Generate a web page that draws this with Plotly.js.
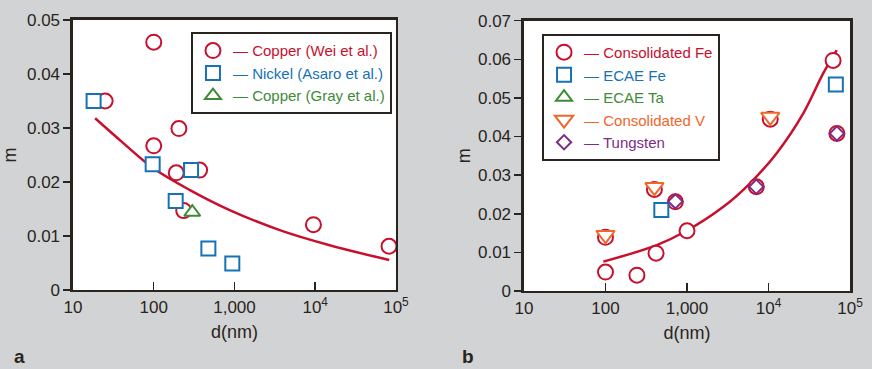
<!DOCTYPE html>
<html><head><meta charset="utf-8">
<script src="https://cdn.plot.ly/plotly-3.0.1.min.js"></script>
<style>html,body{margin:0;padding:0;background:#d1d3d4}</style>
</head><body><div id="chart" style="width:872px;height:369px"></div>
<script>
// ---- Panel a ----
const cuWeiD = [25, 100, 100, 205, 190, 370, 235, 9500, 82000];
const cuWeiM = [0.035, 0.0459, 0.0267, 0.0299, 0.0217, 0.0222, 0.0147, 0.0121, 0.0081];
const niAsaroD = [18, 97, 187, 290, 475, 940];
const niAsaroM = [0.035, 0.0233, 0.0165, 0.0222, 0.0077, 0.0049];
const cuGrayD = [300];
const cuGrayM = [0.0144];
const fitAD = [18.8, 42, 99, 281, 871, 3630, 15100, 82600];
const fitAM = [0.0318, 0.0272, 0.02254, 0.0185, 0.0148, 0.0111, 0.0083, 0.00556];

// ---- Panel b ----
const consFeD = [100, 243, 417, 1000, 7080, 62000, 100, 398, 720, 10500, 69000];
const consFeM = [0.0049, 0.0041, 0.0098, 0.0156, 0.027, 0.0597, 0.0139, 0.0263, 0.0231, 0.0445, 0.0408];
const ecaeFeD = [484, 67000];
const ecaeFeM = [0.021, 0.0535];
const ecaeTaD = [null];   // legend entry only, no visible point in the figure
const ecaeTaM = [null];
const consVD = [100, 398, 10500];
const consVM = [0.0145, 0.0269, 0.0451];
const tungD = [720, 7080, 69000];
const tungM = [0.0232, 0.027, 0.0408];
const fitBD = [94, 425, 990, 2790, 5930, 12600, 26700, 47000, 68700];
const fitBM = [0.0076, 0.0119, 0.0156, 0.0218, 0.0279, 0.0357, 0.046, 0.0564, 0.0624];

// ---- Tick labels ----
const xTickVals = [10, 100, 1000, 10000, 100000];
const xTickText = ['10', '100', '1,000', '10<sup>4</sup>', '10<sup>5</sup>'];
const yTickValsA = [0, 0.01, 0.02, 0.03, 0.04, 0.05];
const yTickTextA = ['0', '0.01', '0.02', '0.03', '0.04', '0.05'];
const yTickValsB = [0, 0.01, 0.02, 0.03, 0.04, 0.05, 0.06, 0.07];
const yTickTextB = ['0', '0.01', '0.02', '0.03', '0.04', '0.05', '0.06', '0.07'];

const RED = '#c8102e', BLUE = '#1672b5', GREEN = '#3d8b37', ORANGE = '#f2652b', PURPLE = '#7e2d87';
const INK = '#2a2420';
const FONT = 'Liberation Sans, Arial, sans-serif';
const lab = (c, t) => '<span style="color:' + c + '">— ' + t + '</span>';
const mk = (sym, c, size) => ({symbol: sym, size: size || 15, color: 'white', line: {color: c, width: 2}});

const traces = [
  {x: fitAD, y: fitAM, mode: 'lines', line: {color: RED, width: 2.5, shape: 'spline'}, showlegend: false, hoverinfo: 'skip', xaxis: 'x', yaxis: 'y'},
  {x: cuWeiD, y: cuWeiM, mode: 'markers', name: lab(RED, 'Copper (Wei et al.)'), marker: mk('circle', RED, 15), xaxis: 'x', yaxis: 'y', legend: 'legend'},
  {x: niAsaroD, y: niAsaroM, mode: 'markers', name: lab(BLUE, 'Nickel (Asaro et al.)'), marker: mk('square', BLUE, 14), xaxis: 'x', yaxis: 'y', legend: 'legend'},
  {x: cuGrayD, y: cuGrayM, mode: 'markers', name: lab(GREEN, 'Copper (Gray et al.)'), marker: mk('triangle-up', GREEN, 14), xaxis: 'x', yaxis: 'y', legend: 'legend'},

  {x: fitBD, y: fitBM, mode: 'lines', line: {color: RED, width: 2.5, shape: 'spline'}, showlegend: false, hoverinfo: 'skip', xaxis: 'x2', yaxis: 'y2'},
  {x: consFeD, y: consFeM, mode: 'markers', name: lab(RED, 'Consolidated Fe'), marker: mk('circle', RED, 15), xaxis: 'x2', yaxis: 'y2', legend: 'legend2'},
  {x: ecaeFeD, y: ecaeFeM, mode: 'markers', name: lab(BLUE, 'ECAE Fe'), marker: mk('square', BLUE, 14), xaxis: 'x2', yaxis: 'y2', legend: 'legend2'},
  {x: ecaeTaD, y: ecaeTaM, mode: 'markers', name: lab(GREEN, 'ECAE Ta'), marker: mk('triangle-up', GREEN, 14), xaxis: 'x2', yaxis: 'y2', legend: 'legend2', showlegend: true},
  {x: consVD, y: consVM, mode: 'markers', name: lab(ORANGE, 'Consolidated V'), marker: mk('triangle-down', ORANGE, 16), xaxis: 'x2', yaxis: 'y2', legend: 'legend2'},
  {x: tungD, y: tungM, mode: 'markers', name: lab(PURPLE, 'Tungsten'), marker: mk('diamond', PURPLE, 11), xaxis: 'x2', yaxis: 'y2', legend: 'legend2'}
];

const tickFont = {family: FONT, size: 17, color: INK};
const xAx = (dom, anchor) => ({
  type: 'log', range: [1, 5], domain: dom, anchor: anchor,
  tickvals: xTickVals, ticktext: xTickText, tickfont: tickFont,
  ticks: 'inside', ticklen: 8, tickwidth: 1.5, tickcolor: INK,
  showline: true, mirror: true, linecolor: INK, linewidth: 2.5,
  showgrid: false, zeroline: false,
  title: {text: 'd(nm)', font: {family: FONT, size: 18, color: INK}, standoff: 10}
});
const yAx = (dom, anchor, rng, tv, tt, so) => ({
  range: rng, domain: dom, anchor: anchor,
  tickvals: tv, ticktext: tt, tickfont: tickFont,
  ticks: 'outside', ticklen: 7, tickwidth: 1.5, tickcolor: INK,
  showline: true, mirror: true, linecolor: INK, linewidth: 2.5,
  showgrid: false, zeroline: false,
  title: {text: 'm', font: {family: FONT, size: 18, color: INK}, standoff: so}
});

const legFont = {family: FONT, size: 15, color: INK};
const layout = {
  width: 872, height: 369,
  margin: {l: 0, r: 0, t: 0, b: 0},
  paper_bgcolor: '#d1d3d4', plot_bgcolor: 'white',
  font: {family: FONT, color: INK},
  xaxis: xAx([0.0837, 0.4541], 'y'),
  yaxis: yAx([0.2141, 0.9458], 'x', [0, 0.05], yTickValsA, yTickTextA, 8),
  xaxis2: xAx([0.6009, 0.9748], 'y2'),
  yaxis2: yAx([0.2114, 0.9439], 'x2', [0, 0.07], yTickValsB, yTickTextB, 3),
  legend: {x: 0.219, y: 0.9125, xanchor: 'left', yanchor: 'top', bgcolor: 'white', bordercolor: INK, borderwidth: 2, font: legFont, tracegroupgap: 0},
  legend2: {x: 0.6216, y: 0.908, xanchor: 'left', yanchor: 'top', bgcolor: 'white', bordercolor: INK, borderwidth: 2, font: legFont, tracegroupgap: 0},
  showlegend: true,
  annotations: [
    {text: '<b>a</b>', xref: 'paper', yref: 'paper', x: 0.0138, y: 0, xanchor: 'left', yanchor: 'bottom', showarrow: false, font: {family: FONT, size: 19, color: INK}},
    {text: '<b>b</b>', xref: 'paper', yref: 'paper', x: 0.528, y: 0, xanchor: 'left', yanchor: 'bottom', showarrow: false, font: {family: FONT, size: 19, color: INK}}
  ]
};

Plotly.newPlot('chart', traces, layout, {displayModeBar: false, staticPlot: true});
</script></body></html>
